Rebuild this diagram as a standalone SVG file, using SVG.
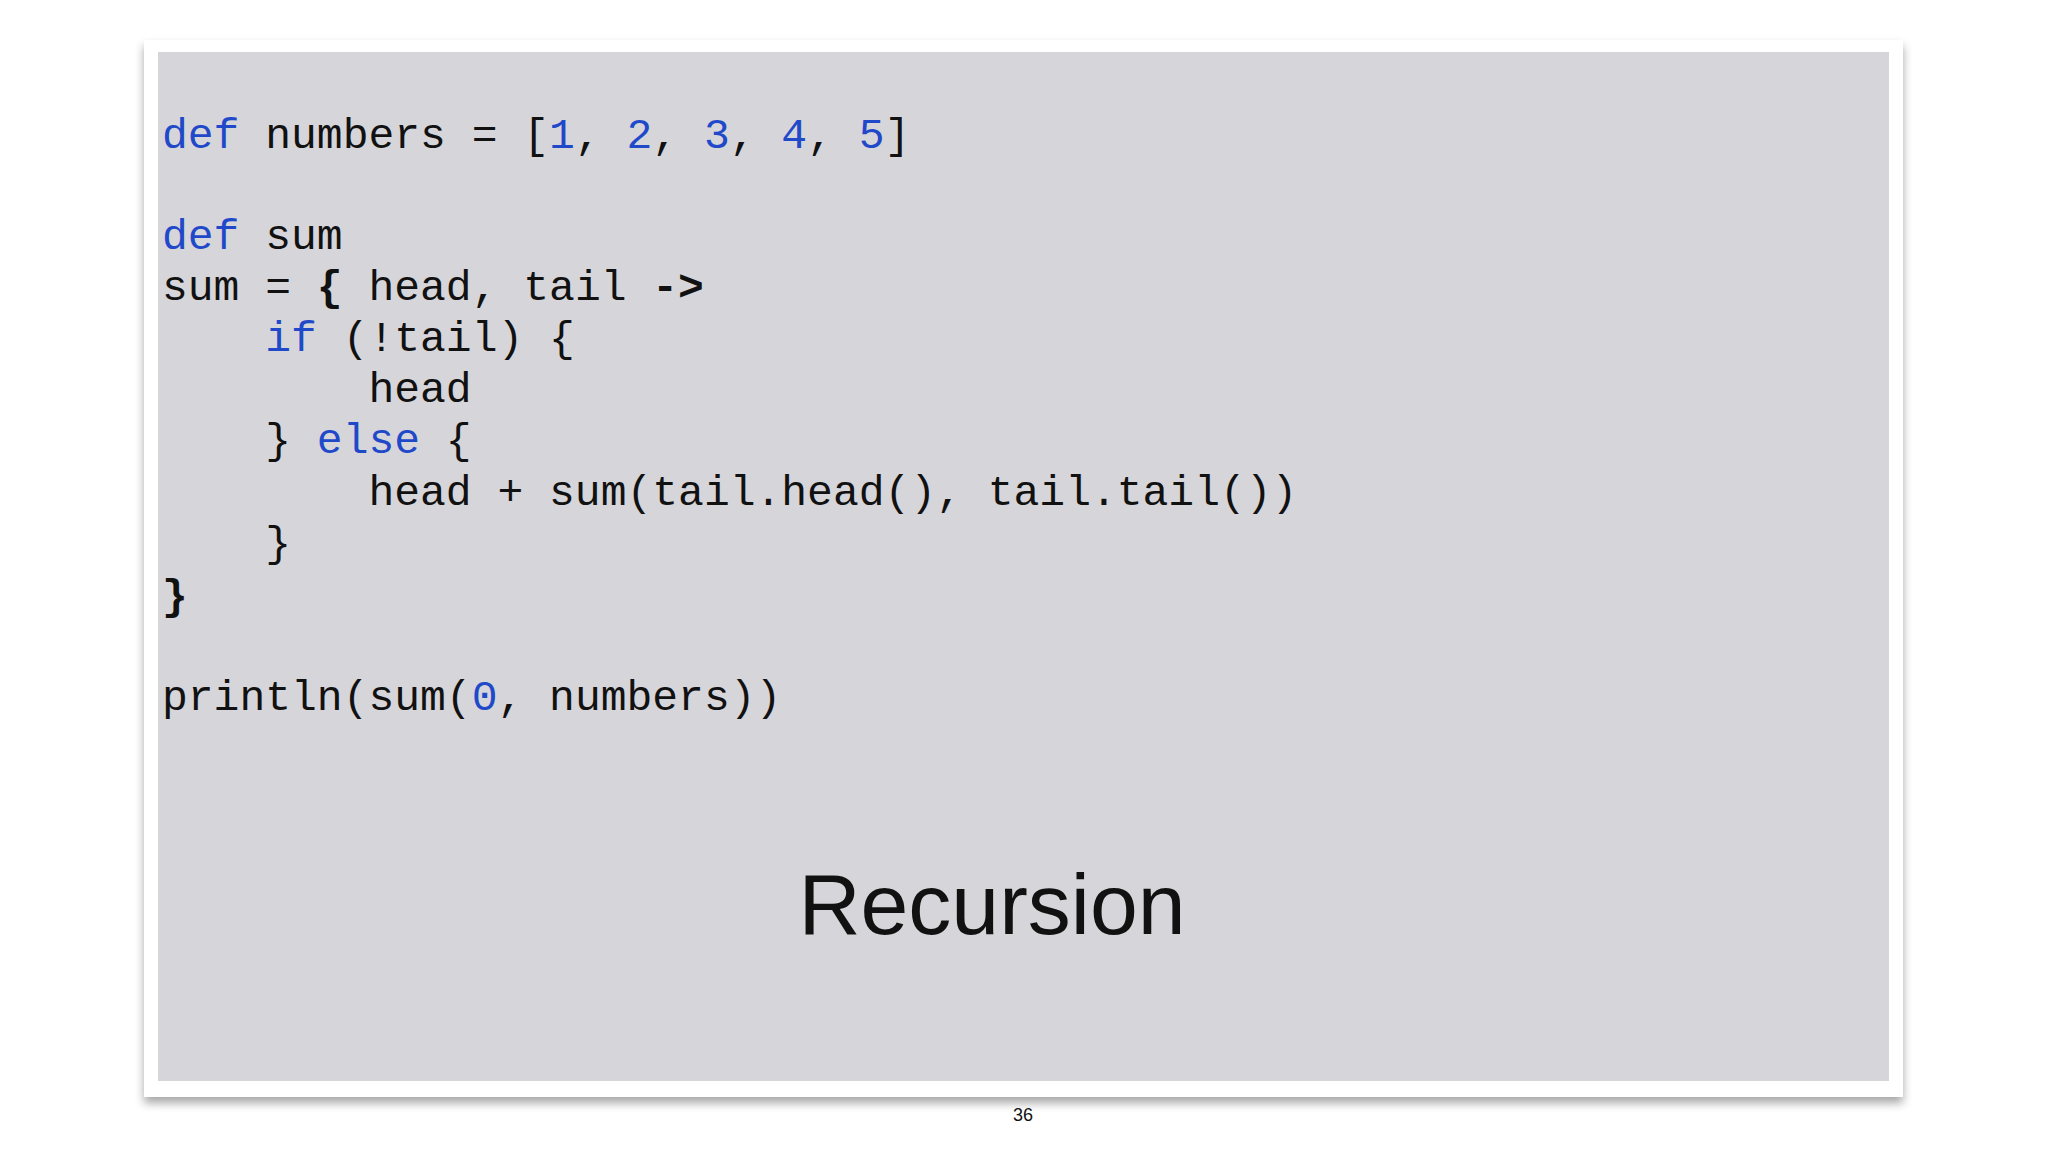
<svg xmlns="http://www.w3.org/2000/svg" width="2048" height="1152" viewBox="0 0 2048 1152">
<defs>
<style>
.c{font-family:"Liberation Mono",monospace;font-size:43px;fill:#111;white-space:pre}
.k{fill:#1f49c9}
.b{font-weight:bold}
</style>
<filter id="sh" x="-5%" y="-5%" width="110%" height="115%"><feDropShadow dx="0" dy="6" stdDeviation="5" flood-color="#000" flood-opacity="0.35"/></filter>
</defs>
<rect width="2048" height="1152" fill="#fff"/>
<rect x="144" y="40" width="1759" height="1057" fill="#fff" filter="url(#sh)"/>
<rect x="158" y="52" width="1731" height="1029" fill="#d6d5d9"/>
<g id="code">
<text class="c" x="162" y="148"><tspan class="k">def</tspan> numbers = [<tspan class="k">1</tspan>, <tspan class="k">2</tspan>, <tspan class="k">3</tspan>, <tspan class="k">4</tspan>, <tspan class="k">5</tspan>]</text>
<text class="c" x="162" y="249"><tspan class="k">def</tspan> sum</text>
<text class="c" x="162" y="300">sum = <tspan class="b">{</tspan> head, tail <tspan class="b">-&gt;</tspan></text>
<text class="c" x="162" y="351">    <tspan class="k">if</tspan> (!tail) {</text>
<text class="c" x="162" y="402">        head</text>
<text class="c" x="162" y="453">    } <tspan class="k">else</tspan> {</text>
<text class="c" x="162" y="505">        head + sum(tail.head(), tail.tail())</text>
<text class="c" x="162" y="556">    }</text>
<text class="c b" x="162" y="609">}</text>
<text class="c" x="162" y="710">println(sum(<tspan class="k">0</tspan>, numbers))</text>
</g>
<text id="title" x="992" y="934" text-anchor="middle" font-family="Liberation Sans,Arial,sans-serif" font-size="86" fill="#111">Recursion</text>
<text id="page" x="1023" y="1121" text-anchor="middle" font-family="Liberation Sans,Arial,sans-serif" font-size="18" fill="#111">36</text>
</svg>
